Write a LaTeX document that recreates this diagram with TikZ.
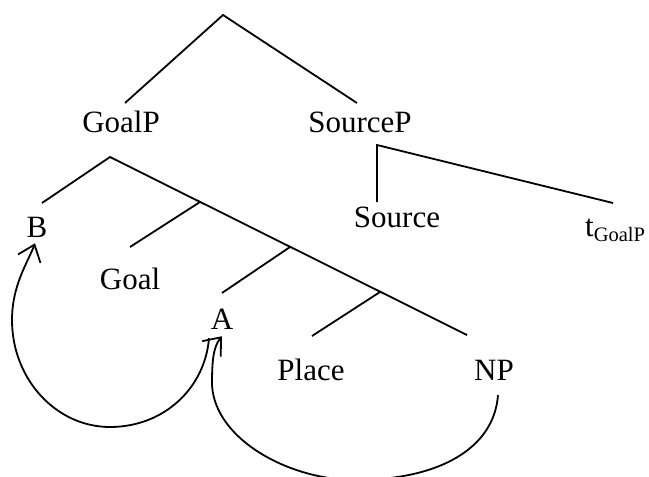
\documentclass[tikz,border=0pt]{standalone}
\usepackage{fontspec}
\setmainfont{Liberation Serif}
\usetikzlibrary{arrows.meta}
\begin{document}
\begin{tikzpicture}[x=1pt,y=-1pt,
  edge/.style={line width=1.8pt},
  cat/.style={inner sep=0pt,anchor=base,font=\fontsize{31}{36}\selectfont},
  move/.style={line width=1.8pt,-{Straight Barb[length=15pt,width=24pt]}}]
\useasboundingbox (0,0) rectangle (649,477);
\clip (0,0) rectangle (649,477);

% category labels
\node[cat] (GoalP)   at (121,132) {GoalP};
\node[cat] (SourceP) at (360,132) {SourceP};
\node[cat] (B)       at (37,237)  {B};
\node[cat] (Goal)    at (130,289) {Goal};
\node[cat] (A)       at (222,329) {A};
\node[cat] (Place)   at (311,380) {Place};
\node[cat] (NP)      at (494,380) {NP};
\node[cat] (Source)  at (397,227) {Source};
\node[cat,anchor=base west] (tGoalP) at (585,236)
  {t\raisebox{-5pt}{\fontsize{20.5}{24}\selectfont GoalP}};

% branching points and branch ends
\coordinate (root)     at (223,15);
\coordinate (gpTop)    at (125,103);
\coordinate (spTop)    at (357,103);
\coordinate (gpApex)   at (110,157);
\coordinate (bEnd)     at (42,203);
\coordinate (br1)      at (200,202);
\coordinate (goalEnd)  at (130,247);
\coordinate (br2)      at (290,247);
\coordinate (aEnd)     at (222,293);
\coordinate (br3)      at (380,292);
\coordinate (placeEnd) at (312,336);
\coordinate (npEnd)    at (467,335);
\coordinate (spApex)   at (377,145);
\coordinate (srcEnd)   at (377,202);
\coordinate (tEnd)     at (613,203);

% tree
\draw[edge] (gpTop) -- (root) -- (spTop);
\draw[edge] (bEnd) -- (gpApex) -- (npEnd);
\draw[edge] (br1) -- (goalEnd);
\draw[edge] (br2) -- (aEnd);
\draw[edge] (br3) -- (placeEnd);
\draw[edge] (srcEnd) -- (spApex) -- (tEnd);

% movement arrows
\draw[move] ([shift={(-13,9)}]A.south)
  .. controls (205,388) and (164,427) .. (110,427)
  .. controls (56,427) and (12,379) .. (12,320)
  .. controls (12,285) and (28,262) .. ([shift={(-2,6)}]B.south);
\draw[move] ([shift={(4,15)}]NP.south)
  .. controls (494,448) and (440,480) .. (355,480)
  .. controls (290,480) and (215,440) .. (212,385)
  .. controls (212,362) and (213,347) .. ([shift={(0,7)}]A.south);
\end{tikzpicture}
\end{document}
